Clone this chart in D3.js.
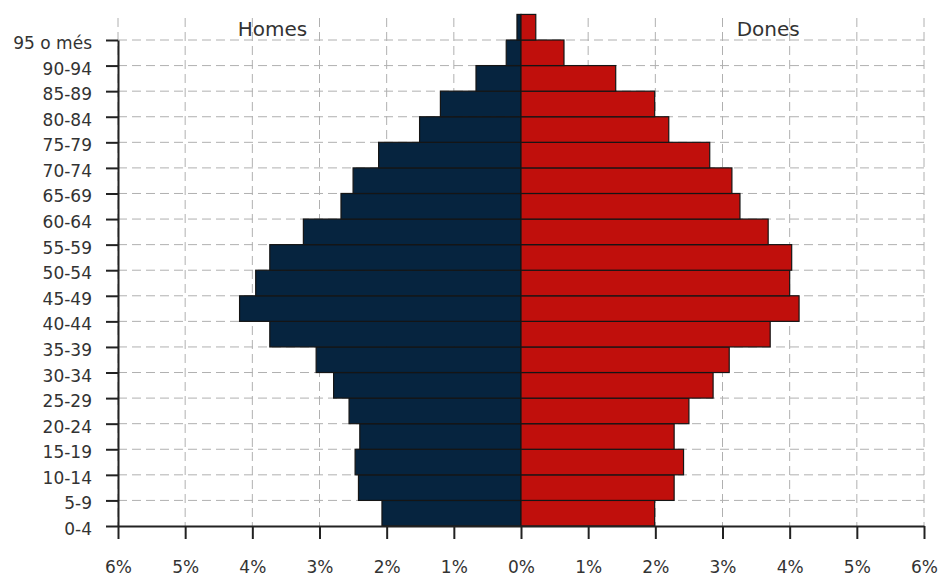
<!DOCTYPE html>
<html>
<head>
<meta charset="utf-8">
<script src="https://cdn.jsdelivr.net/npm/d3@7"></script>
<style>
  html, body { margin: 0; padding: 0; background: #fff; }
  svg { display: block; font-family: "DejaVu Sans", Verdana, sans-serif; }
</style>
</head>
<body>
<svg id="chart" width="943" height="581"></svg>
<script>
// Age groups, bottom to top
const ages = ["0-4","5-9","10-14","15-19","20-24","25-29","30-34","35-39","40-44","45-49",
              "50-54","55-59","60-64","65-69","70-74","75-79","80-84","85-89","90-94","95 o més"];
// Percentage of total population
const homes = [2.07, 2.42, 2.47, 2.40, 2.56, 2.79, 3.05, 3.74, 4.19, 3.95,
               3.74, 3.24, 2.68, 2.50, 2.12, 1.51, 1.20, 0.67, 0.22, 0.06];
const dones = [1.99, 2.28, 2.42, 2.28, 2.50, 2.86, 3.10, 3.71, 4.14, 4.00,
               4.03, 3.68, 3.26, 3.14, 2.81, 2.20, 1.99, 1.41, 0.64, 0.22];
const xTicks = [-6,-5,-4,-3,-2,-1,0,1,2,3,4,5,6];
const seriesNames = ["Homes", "Dones"];

const svg = d3.select("#chart");
const left = 118, right = 924, bottom = 526, topTick = 40;

const x = d3.scaleLinear().domain([-6, 6]).range([left, right]);
const y = d3.scaleLinear().domain([0, ages.length - 1]).range([bottom, topTick]);

const textColor = "#333";
const gridColor = "#b0b0b0";

// grid
const grid = svg.append("g");
grid.selectAll("line.h").data(d3.range(1, ages.length)).join("line")
  .attr("x1", left).attr("x2", x(6))
  .attr("y1", d => y(d)).attr("y2", d => y(d))
  .attr("stroke", gridColor).attr("stroke-width", 1).attr("stroke-dasharray", "9,5");
grid.selectAll("line.v").data(xTicks).join("line")
  .attr("x1", d => x(d)).attr("x2", d => x(d))
  .attr("y1", y(ages.length - 1) - 22).attr("y2", bottom)
  .attr("stroke", gridColor).attr("stroke-width", 1).attr("stroke-dasharray", "9,5");

// bars
const barStroke = "#151515";
svg.append("g").selectAll("rect").data(homes).join("rect")
  .attr("x", d => x(-d)).attr("width", d => x(0) - x(-d))
  .attr("y", (d, i) => y(i + 1)).attr("height", (d, i) => y(i) - y(i + 1))
  .attr("fill", "#06243f").attr("stroke", barStroke).attr("stroke-width", 1.2);
svg.append("g").selectAll("rect").data(dones).join("rect")
  .attr("x", x(0)).attr("width", d => x(d) - x(0))
  .attr("y", (d, i) => y(i + 1)).attr("height", (d, i) => y(i) - y(i + 1))
  .attr("fill", "#c00f0c").attr("stroke", barStroke).attr("stroke-width", 1.2);

// axes
const yAxis = d3.axisLeft(y).tickValues(d3.range(ages.length))
  .tickFormat(i => ages[i]).tickSize(12).tickSizeOuter(0).tickPadding(14);
const gy = svg.append("g").attr("transform", `translate(${left},0)`).call(yAxis);
gy.selectAll("text").attr("dy", "0.5em");

const xAxis = d3.axisBottom(x).tickValues(xTicks)
  .tickFormat(d => Math.abs(d) + "%").tickSize(13).tickSizeOuter(0).tickPadding(22);
const gx = svg.append("g").attr("transform", `translate(0,${bottom})`).call(xAxis);

[gx, gy].forEach(g => {
  g.select(".domain").attr("stroke", "#222").attr("stroke-width", 2);
  g.selectAll(".tick line").attr("stroke", "#222").attr("stroke-width", 2);
  g.selectAll("text").attr("fill", textColor).attr("font-size", 17)
    .attr("font-family", "'DejaVu Sans', Verdana, sans-serif");
});

// series titles
svg.append("g").selectAll("text").data(seriesNames).join("text")
  .attr("x", (d, i) => x(i === 0 ? -3.7 : 3.68))
  .attr("y", 36)
  .attr("text-anchor", "middle")
  .attr("fill", textColor).attr("font-size", 20)
  .text(d => d);
</script>
</body>
</html>
